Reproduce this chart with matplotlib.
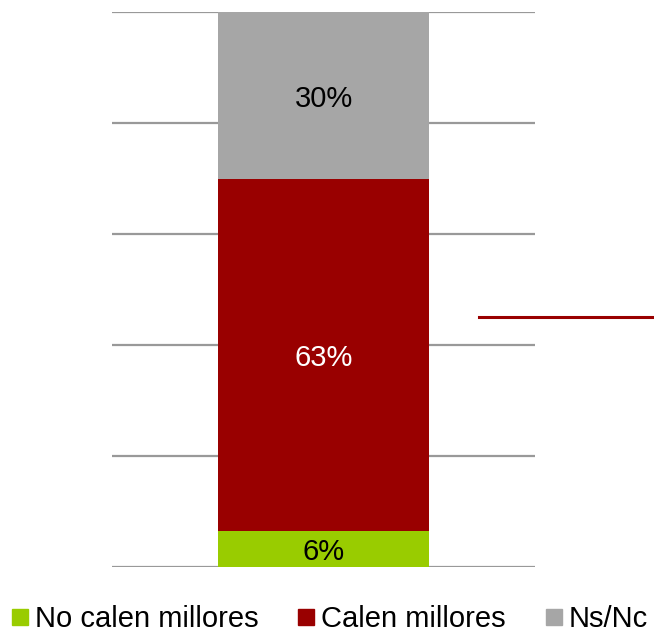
import matplotlib.pyplot as plt
from matplotlib.lines import Line2D

plt.rcParams['font.family'] = ['Liberation Sans', 'DejaVu Sans']

# dades (percentatges)
categories = ['No calen millores', 'Calen millores', 'Ns/Nc']
values = [6.4, 63.4, 30.2]
labels = ['6%', '63%', '30%']
colors = ['#99cc00', '#990000', '#a6a6a6']
text_colors = ['black', 'white', 'black']

W, H = 654, 636
fig = plt.figure(figsize=(W / 100, H / 100), dpi=100)
ax = fig.add_axes([112 / W, (H - 567) / H, (535 - 112) / W, (567 - 11.7) / H])

bottom = 0
for cat, v, lab, c, tc in zip(categories, values, labels, colors, text_colors):
    ax.bar(0, v, width=0.5, bottom=bottom, color=c, label=cat, zorder=3)
    ax.text(0, bottom + v / 2, lab, ha='center', va='center_baseline', fontsize=21, color=tc, zorder=4)
    bottom += v

ax.set_xlim(-0.5, 0.5)
ax.set_ylim(0, 100)
ax.set_yticks([0, 20, 40, 60, 80, 100])
ax.yaxis.grid(True, color='#999999', linewidth=1.6, zorder=0)
ax.set_xticks([])
ax.tick_params(axis='y', length=0, labelleft=False)
for s in ax.spines.values():
    s.set_visible(False)

# línia decorativa a la dreta
fig.add_artist(Line2D([479 / W, 1.0], [1 - 316.7 / H] * 2, color='#990000', linewidth=2.2))

handles = [Line2D([], [], marker='s', linestyle='none', markersize=11, color=c) for c in colors]
fig.legend(handles, categories, loc='lower center', bbox_to_anchor=(0.505, -0.014), ncol=3,
           frameon=False, fontsize=21, handlelength=0.5, handletextpad=0.25,
           columnspacing=1.4, borderaxespad=0)

fig.savefig('out.png', dpi=100)
